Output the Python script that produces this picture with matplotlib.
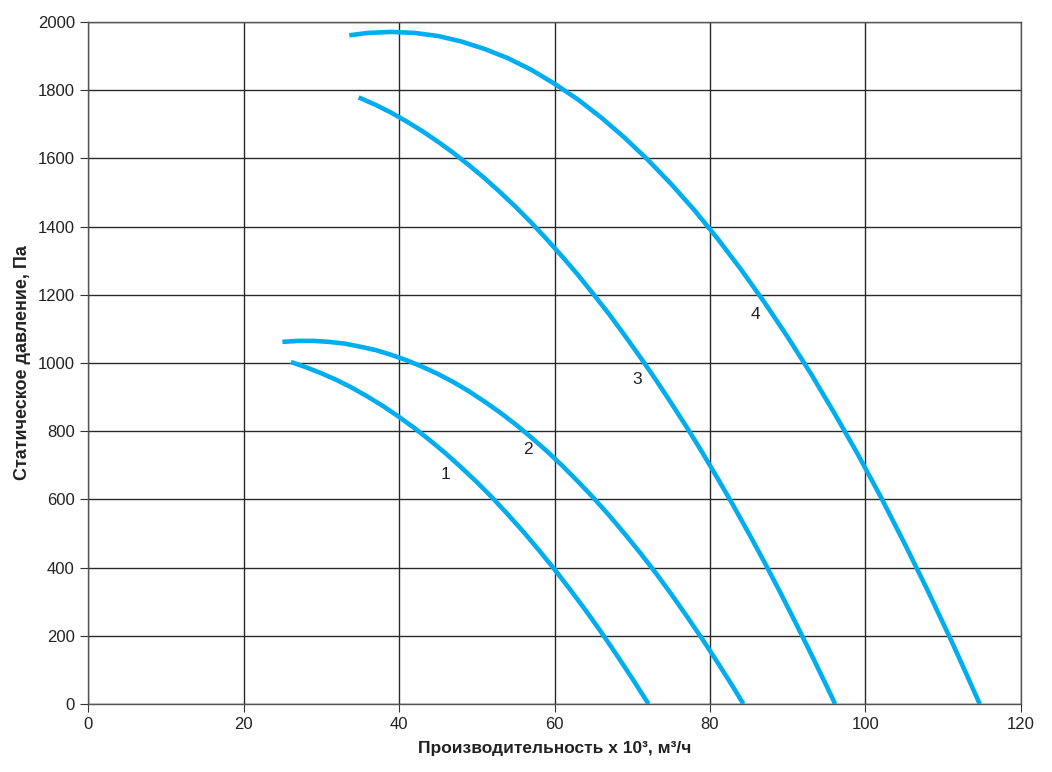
import matplotlib
matplotlib.use("Agg")
import matplotlib.pyplot as plt

plt.rcParams['font.family'] = ['Liberation Sans', 'DejaVu Sans']

# Fan curves: flow (x10^3 m3/h) vs static pressure (Pa)
x1 = [26.1, 28, 30, 32, 34, 36, 38, 40, 42, 44, 46, 48, 50, 52, 54, 56, 58, 60, 62, 64, 66, 68, 70, 72.1]
y1 = [1003, 988, 970, 950, 927, 901, 873, 842, 809, 773, 735, 694, 651, 605, 556, 505, 451, 395, 336, 275, 211, 144, 75, 0]

x2 = [25, 27, 29, 31, 33, 35, 37, 39, 41, 43, 45, 47, 49, 51, 53, 55, 57, 59, 61, 63, 65, 67, 69, 71, 73, 75, 77, 79, 81, 83, 84.3]
y2 = [1062, 1065, 1065, 1062, 1057, 1048, 1038, 1024, 1008, 989, 968, 944, 917, 887, 855, 820, 782, 742, 699, 653, 605, 554, 500, 444, 385, 323, 258, 191, 121, 49, 0]

x3 = [34.8, 37, 39, 41, 43, 45, 47, 49, 51, 53, 55, 57, 59, 61, 63, 65, 67, 69, 71, 73, 75, 77, 79, 81, 83, 85, 87, 89, 91, 93, 95, 96.1]
y3 = [1779, 1757, 1734, 1708, 1680, 1649, 1616, 1580, 1542, 1501, 1458, 1412, 1363, 1312, 1259, 1202, 1144, 1082, 1018, 952, 883, 812, 738, 661, 582, 500, 416, 329, 239, 147, 53, 0]

x4 = [33.6, 36, 39, 42, 45, 48, 51, 54, 57, 60, 63, 66, 69, 72, 75, 78, 81, 84, 87, 90, 93, 96, 99, 102, 105, 108, 111, 113, 114.7]
y4 = [1961, 1968, 1971, 1968, 1959, 1943, 1921, 1894, 1860, 1819, 1773, 1720, 1661, 1596, 1525, 1448, 1364, 1274, 1178, 1076, 968, 853, 733, 606, 472, 333, 188, 87, 0]

curve_labels = ['1', '2', '3', '4']
label_x = [46.0, 56.6, 70.6, 85.8]
label_y = [674, 745, 951, 1142]

color = '#00aeef'

fig = plt.figure(figsize=(10.52, 7.72), dpi=100)
ax = fig.add_axes([0.0837, 0.088, 0.8868, 0.8835])

for xs, ys in [(x1, y1), (x2, y2), (x3, y3), (x4, y4)]:
    ax.plot(xs, ys, color=color, lw=3.3, solid_capstyle='butt',
            solid_joinstyle='round', zorder=3)

for t, lx, ly in zip(curve_labels, label_x, label_y):
    ax.text(lx, ly, t, fontsize=12.5, ha='center', va='center', color='#222222')

ax.set_xlim(0, 120)
ax.set_ylim(0, 2000)
ax.set_xticks(range(0, 121, 20))
ax.set_yticks(range(0, 2001, 200))
ax.grid(True, color='#2a2a2a', lw=1.0)
ax.set_axisbelow(True)
for s in ax.spines.values():
    s.set_color('#555555')
    s.set_linewidth(1.0)
ax.tick_params(labelsize=12, length=6, color='#333333', labelcolor='#222222')

ax.set_xlabel('Производительность х 10³, м³/ч', fontsize=12.5, fontweight='bold',
              color='#222222', labelpad=6)
ax.set_ylabel('Статическое давление, Па', fontsize=13, fontweight='bold',
              color='#222222', labelpad=5)

fig.savefig('out.png', dpi=100)
